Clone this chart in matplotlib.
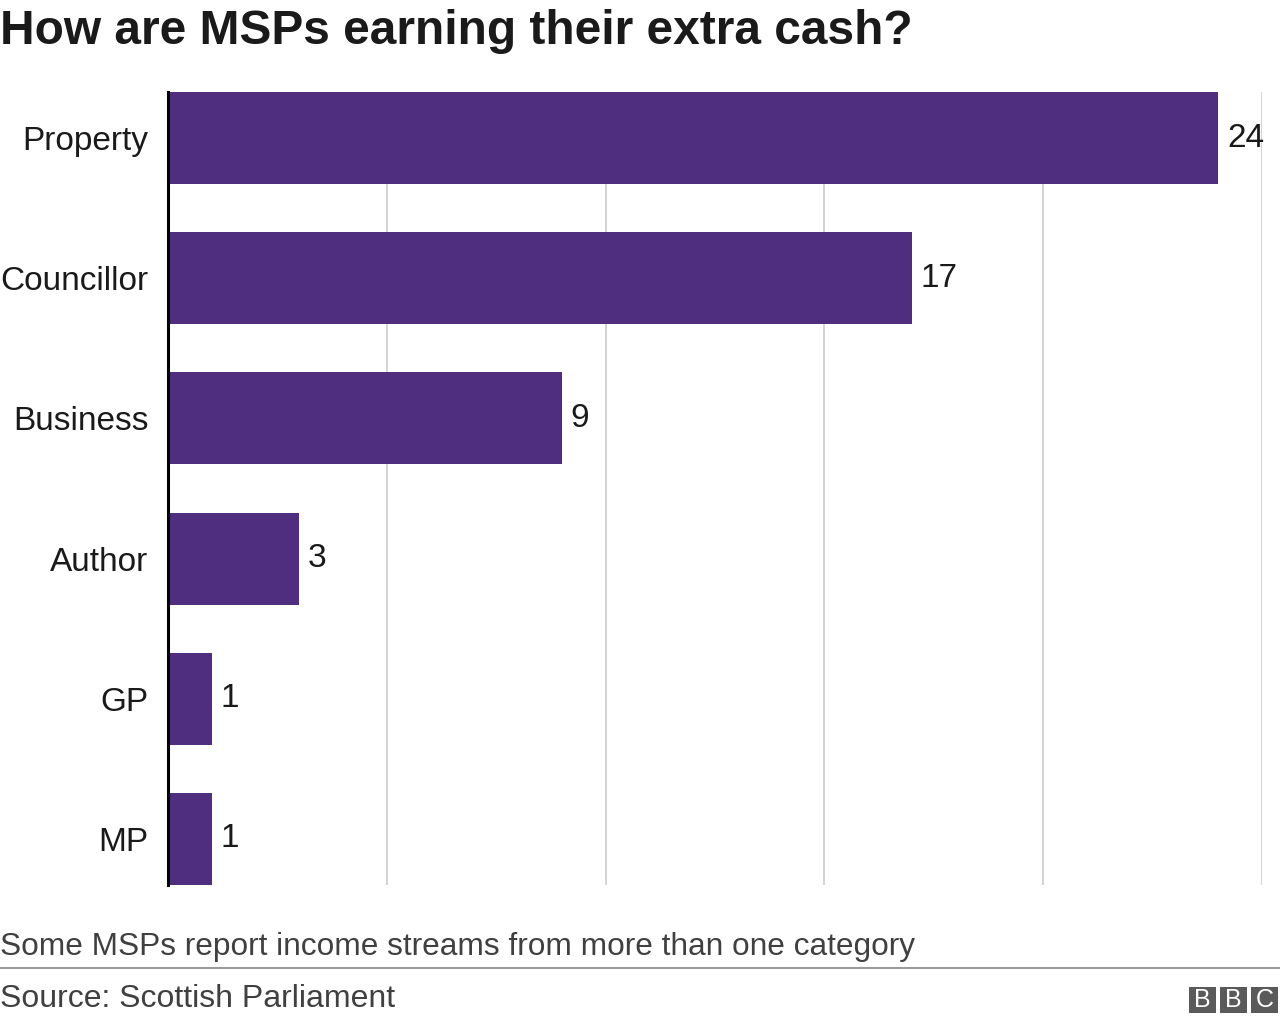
import matplotlib.pyplot as plt
from matplotlib.patches import Rectangle

plt.rcParams['font.family'] = ['Liberation Sans', 'DejaVu Sans']

categories = ['Property', 'Councillor', 'Business', 'Author', 'GP', 'MP']
values = [24, 17, 9, 3, 1, 1]

W, H = 1280, 1024
fig = plt.figure(figsize=(12.8, 10.24), dpi=100)
ax = fig.add_axes([168 / W, 1 - 885 / H, (1262 - 168) / W, (885 - 92) / H])

ypos = list(range(len(categories)))
ax.barh(ypos, values, height=0.657, color='#4f2d7f', zorder=2)
for y, v in zip(ypos, values):
    ax.text(v + 0.2, y, str(v), va='center', ha='left', fontsize=24, color='#1a1a1a')

ax.set_xlim(0, 25)
ax.set_ylim(5.329, -0.329)
ax.set_xticks([5, 10, 15, 20, 25])
ax.set_xticklabels([])
ax.tick_params(axis='x', length=0)
ax.grid(axis='x', color='#cccccc', linewidth=1.2, zorder=0)
ax.set_yticks(ypos)
ax.set_yticklabels(categories, fontsize=24, color='#1a1a1a')
ax.tick_params(axis='y', length=0, pad=14)
for s in ['top', 'right', 'bottom']:
    ax.spines[s].set_visible(False)
ax.spines['left'].set_linewidth(2.2)
ax.spines['left'].set_color('black')
ax.spines['left'].set_zorder(3)

fig.text(0 / W, 1 - 31 / H, 'How are MSPs earning their extra cash?', fontsize=34.5,
         fontweight='bold', va='center', ha='left', color='#1a1a1a')
fig.text(0, 1 - 947 / H, 'Some MSPs report income streams from more than one category',
         fontsize=22.8, va='center', ha='left', color='#404040')
fig.add_artist(plt.Line2D([0, 1], [1 - 968 / H, 1 - 968 / H], color='#999999', linewidth=1.5))
fig.text(0, 1 - 999 / H, 'Source: Scottish Parliament',
         fontsize=23, va='center', ha='left', color='#404040')

# BBC logo
for i, letter in enumerate('BBC'):
    x0 = 1189 + i * 31
    fig.add_artist(Rectangle((x0 / W, 1 - 1013 / H), 27 / W, 26 / H,
                             facecolor='#5a5a5a', edgecolor='none', transform=fig.transFigure))
    fig.text((x0 + 13.5) / W, 1 - 1000 / H, letter, fontsize=18,
             color='white', ha='center', va='center')

fig.savefig('out.png', dpi=100)
